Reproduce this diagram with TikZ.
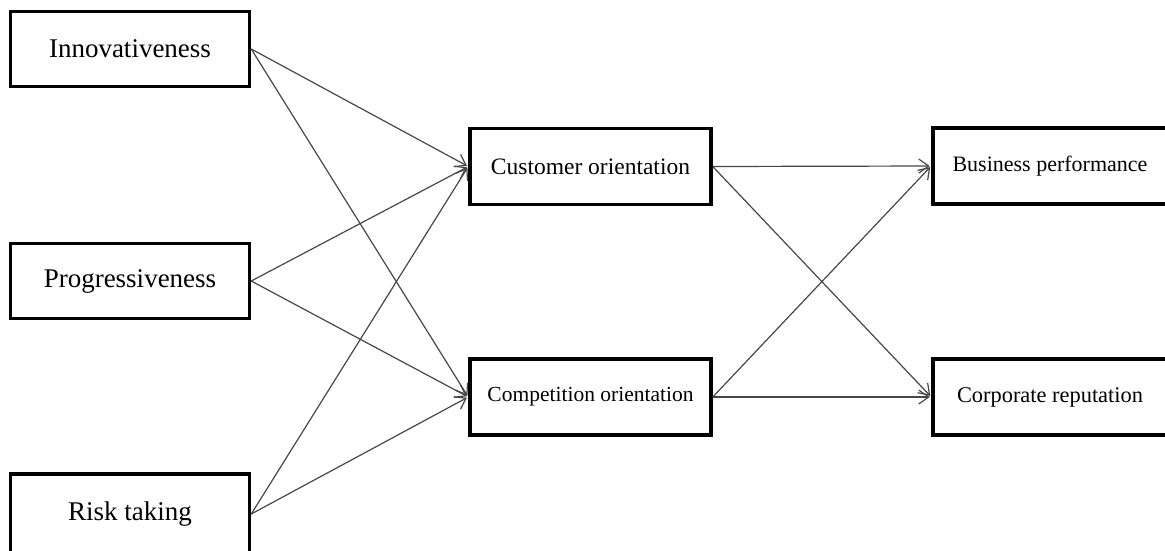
\documentclass[tikz,border=0pt]{standalone}
\usepackage{fontspec}
\setmainfont{Liberation Serif}
\usetikzlibrary{arrows.meta}
\tikzset{
  box/.style={draw=black, line width=3.5pt, fill=white, rectangle, inner sep=0pt, anchor=center},
  leftbox/.style={box, minimum width=239pt, minimum height=75pt, font=\fontsize{27}{30}\selectfont},
  midbox/.style={box, minimum width=241pt, minimum height=76pt},
  rightbox/.style={box, minimum width=234pt, minimum height=76pt},
  link/.style={draw=black!72, line width=1.2pt, -{Straight Barb[length=10pt,width=14pt,line width=1.2pt]}, shorten >=1.5pt}
}
\begin{document}
\begin{tikzpicture}[x=1pt,y=1pt]
\useasboundingbox (0,0) rectangle (1165,-550);
\node[leftbox] (inn) at (130,-49) {Innovativeness};
\node[leftbox] (pro) at (130,-281) {Progressiveness};
\node[leftbox, minimum height=80pt] (risk) at (130,-514) {Risk taking};
\node[midbox, font=\fontsize{23.5}{26}\selectfont] (cust) at (590.5,-166.5) {Customer orientation};
\node[midbox, font=\fontsize{21.5}{24}\selectfont] (comp) at (590.5,-397) {Competition orientation};
\node[rightbox, font=\fontsize{22}{25}\selectfont] (bus) at (1050,-166) {Business performance};
\node[rightbox, font=\fontsize{22.4}{25}\selectfont] (corp) at (1050,-397) {Corporate reputation};
\foreach \a in {inn,pro,risk}{
  \draw[link] (\a.east) -- (cust.west);
  \draw[link] (\a.east) -- (comp.west);
}
\foreach \a in {cust,comp}{
  \draw[link] (\a.east) -- (bus.west);
  \draw[link] (\a.east) -- (corp.west);
}
\end{tikzpicture}
\end{document}
